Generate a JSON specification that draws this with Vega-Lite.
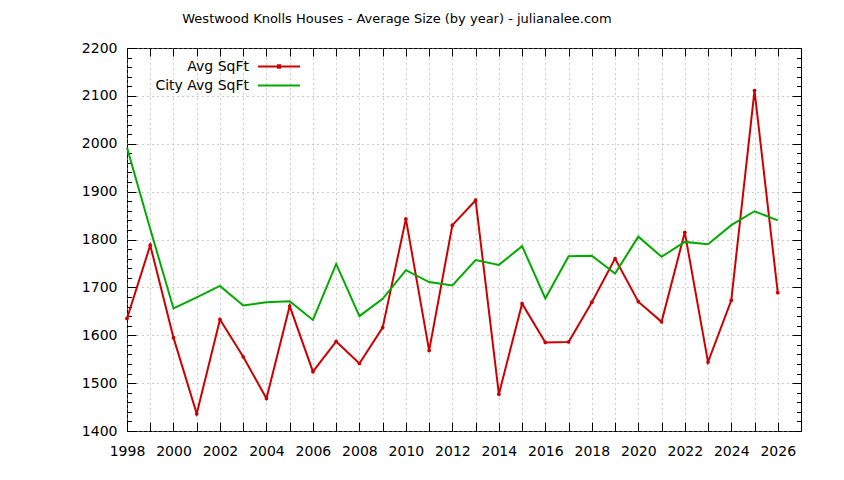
{
  "$schema": "https://vega.github.io/schema/vega-lite/v6.json",
  "width": 674,
  "height": 383,
  "autosize": "none",
  "padding": {"left": 127, "top": 48, "right": 43, "bottom": 49},
  "background": "white",
  "title": {
    "text": "Westwood Knolls Houses - Average Size (by year) - julianalee.com",
    "font": "DejaVu Sans",
    "fontSize": 13,
    "fontWeight": "normal",
    "color": "black",
    "dx": -67,
    "offset": 5,
    "baseline": "alphabetic"
  },
  "data": {
    "values": [
      {"year": 1998, "series": "Avg SqFt", "sqft": 1635},
      {"year": 1999, "series": "Avg SqFt", "sqft": 1788},
      {"year": 2000, "series": "Avg SqFt", "sqft": 1595},
      {"year": 2001, "series": "Avg SqFt", "sqft": 1436},
      {"year": 2002, "series": "Avg SqFt", "sqft": 1633},
      {"year": 2003, "series": "Avg SqFt", "sqft": 1555},
      {"year": 2004, "series": "Avg SqFt", "sqft": 1468},
      {"year": 2005, "series": "Avg SqFt", "sqft": 1661},
      {"year": 2006, "series": "Avg SqFt", "sqft": 1524},
      {"year": 2007, "series": "Avg SqFt", "sqft": 1587},
      {"year": 2008, "series": "Avg SqFt", "sqft": 1541},
      {"year": 2009, "series": "Avg SqFt", "sqft": 1616},
      {"year": 2010, "series": "Avg SqFt", "sqft": 1843},
      {"year": 2011, "series": "Avg SqFt", "sqft": 1568},
      {"year": 2012, "series": "Avg SqFt", "sqft": 1830},
      {"year": 2013, "series": "Avg SqFt", "sqft": 1882},
      {"year": 2014, "series": "Avg SqFt", "sqft": 1477},
      {"year": 2015, "series": "Avg SqFt", "sqft": 1666},
      {"year": 2016, "series": "Avg SqFt", "sqft": 1585},
      {"year": 2017, "series": "Avg SqFt", "sqft": 1586},
      {"year": 2018, "series": "Avg SqFt", "sqft": 1669},
      {"year": 2019, "series": "Avg SqFt", "sqft": 1760},
      {"year": 2020, "series": "Avg SqFt", "sqft": 1670},
      {"year": 2021, "series": "Avg SqFt", "sqft": 1628},
      {"year": 2022, "series": "Avg SqFt", "sqft": 1815},
      {"year": 2023, "series": "Avg SqFt", "sqft": 1544},
      {"year": 2024, "series": "Avg SqFt", "sqft": 1673},
      {"year": 2025, "series": "Avg SqFt", "sqft": 2111},
      {"year": 2026, "series": "Avg SqFt", "sqft": 1689},
      {"year": 1998, "series": "City Avg SqFt", "sqft": 1992},
      {"year": 1999, "series": "City Avg SqFt", "sqft": 1822},
      {"year": 2000, "series": "City Avg SqFt", "sqft": 1656},
      {"year": 2001, "series": "City Avg SqFt", "sqft": 1679},
      {"year": 2002, "series": "City Avg SqFt", "sqft": 1703},
      {"year": 2003, "series": "City Avg SqFt", "sqft": 1662},
      {"year": 2004, "series": "City Avg SqFt", "sqft": 1669},
      {"year": 2005, "series": "City Avg SqFt", "sqft": 1671},
      {"year": 2006, "series": "City Avg SqFt", "sqft": 1632},
      {"year": 2007, "series": "City Avg SqFt", "sqft": 1749},
      {"year": 2008, "series": "City Avg SqFt", "sqft": 1640},
      {"year": 2009, "series": "City Avg SqFt", "sqft": 1676},
      {"year": 2010, "series": "City Avg SqFt", "sqft": 1736},
      {"year": 2011, "series": "City Avg SqFt", "sqft": 1711},
      {"year": 2012, "series": "City Avg SqFt", "sqft": 1704},
      {"year": 2013, "series": "City Avg SqFt", "sqft": 1757},
      {"year": 2014, "series": "City Avg SqFt", "sqft": 1747},
      {"year": 2015, "series": "City Avg SqFt", "sqft": 1786},
      {"year": 2016, "series": "City Avg SqFt", "sqft": 1677},
      {"year": 2017, "series": "City Avg SqFt", "sqft": 1765},
      {"year": 2018, "series": "City Avg SqFt", "sqft": 1766},
      {"year": 2019, "series": "City Avg SqFt", "sqft": 1729},
      {"year": 2020, "series": "City Avg SqFt", "sqft": 1806},
      {"year": 2021, "series": "City Avg SqFt", "sqft": 1764},
      {"year": 2022, "series": "City Avg SqFt", "sqft": 1795},
      {"year": 2023, "series": "City Avg SqFt", "sqft": 1790},
      {"year": 2024, "series": "City Avg SqFt", "sqft": 1830},
      {"year": 2025, "series": "City Avg SqFt", "sqft": 1859},
      {"year": 2026, "series": "City Avg SqFt", "sqft": 1840}
    ]
  },
  "resolve": {"axis": {"x": "independent", "y": "independent"}},
  "layer": [
    {
      "mark": {"type": "line", "opacity": 0},
      "encoding": {
        "x": {"field": "year", "type": "quantitative", "scale": {"domain": [1998, 2027], "nice": false, "zero": false},
          "axis": {"orient": "top", "values": [1998,1999,2000,2001,2002,2003,2004,2005,2006,2007,2008,2009,2010,2011,2012,2013,2014,2015,2016,2017,2018,2019,2020,2021,2022,2023,2024,2025,2026], "labels": false, "grid": false, "tickSize": -8}},
        "y": {"field": "sqft", "type": "quantitative", "scale": {"domain": [1400, 2200], "nice": false, "zero": false},
          "axis": {"orient": "right", "values": [1400,1500,1600,1700,1800,1900,2000,2100,2200], "labels": false, "grid": false, "tickSize": -9}}
      }
    },
    {
      "mark": {"type": "line", "opacity": 0},
      "encoding": {
        "x": {"field": "year", "type": "quantitative", "axis": null},
        "y": {"field": "sqft", "type": "quantitative",
          "axis": {"orient": "left", "values": [1420,1440,1460,1480,1520,1540,1560,1580,1620,1640,1660,1680,1720,1740,1760,1780,1820,1840,1860,1880,1920,1940,1960,1980,2020,2040,2060,2080,2120,2140,2160,2180], "labels": false, "grid": false, "tickSize": -4.5}}
      }
    },
    {
      "mark": {"type": "line", "opacity": 0},
      "encoding": {
        "x": {"field": "year", "type": "quantitative", "axis": null},
        "y": {"field": "sqft", "type": "quantitative",
          "axis": {"orient": "right", "values": [1420,1440,1460,1480,1520,1540,1560,1580,1620,1640,1660,1680,1720,1740,1760,1780,1820,1840,1860,1880,1920,1940,1960,1980,2020,2040,2060,2080,2120,2140,2160,2180], "labels": false, "grid": false, "tickSize": -4.5}}
      }
    },
    {
      "mark": {"type": "line", "strokeWidth": 2},
      "encoding": {
        "x": {"field": "year", "type": "quantitative",
          "axis": {"orient": "bottom", "values": [1998,1999,2000,2001,2002,2003,2004,2005,2006,2007,2008,2009,2010,2011,2012,2013,2014,2015,2016,2017,2018,2019,2020,2021,2022,2023,2024,2025,2026], "labelExpr": "datum.value % 2 == 0 ? datum.value : ''", "format": "d", "grid": true, "tickSize": -9, "labelPadding": 22, "labelOverlap": false, "labelFlush": false}},
        "y": {"field": "sqft", "type": "quantitative",
          "axis": {"orient": "left", "values": [1400,1500,1600,1700,1800,1900,2000,2100,2200], "format": "d", "grid": true, "tickSize": -9, "labelPadding": 19, "labelOverlap": false, "labelFlush": false}},
        "color": {"field": "series", "type": "nominal",
          "scale": {"domain": ["Avg SqFt", "City Avg SqFt"], "range": ["#cc0000", "#00aa00"]},
          "legend": {
            "encode": {
              "symbols": {"update": {"shape": {"signal": "datum.value === 'Avg SqFt' ? 'M-2,0H2M-0.1,-0.13H0.1V0.13H-0.1Z' : 'M-2,0H2'"}}}
            }
          }
        },
        "order": {"field": "year", "type": "quantitative"}
      }
    },
    {
      "transform": [{"filter": "datum.series === 'Avg SqFt'"}],
      "mark": {"type": "point", "filled": true, "shape": "circle", "size": 14, "color": "#cc0000", "opacity": 1},
      "encoding": {
        "x": {"field": "year", "type": "quantitative", "axis": null},
        "y": {"field": "sqft", "type": "quantitative", "axis": null}
      }
    }
  ],
  "config": {
    "view": {"stroke": "black", "strokeWidth": 1},
    "axis": {
      "domain": false,
      "title": null,
      "tickColor": "black",
      "tickWidth": 1,
      "labelFont": "DejaVu Sans",
      "labelFontSize": 14,
      "labelColor": "black",
      "gridColor": "#9a9a9a",
      "gridDash": [1, 4],
      "gridWidth": 1,
      "gridOpacity": 1
    },
    "legend": {
      "orient": "none",
      "legendX": 140.5,
      "legendY": 7,
      "title": null,
      "padding": 0,
      "symbolType": "stroke",
      "symbolSize": 441,
      "symbolStrokeWidth": 2,
      "labelAlign": "right",
      "labelOffset": -41.5,
      "labelFont": "DejaVu Sans",
      "labelFontSize": 14,
      "labelColor": "black",
      "labelLimit": 0,
      "rowPadding": 0
    }
  }
}
